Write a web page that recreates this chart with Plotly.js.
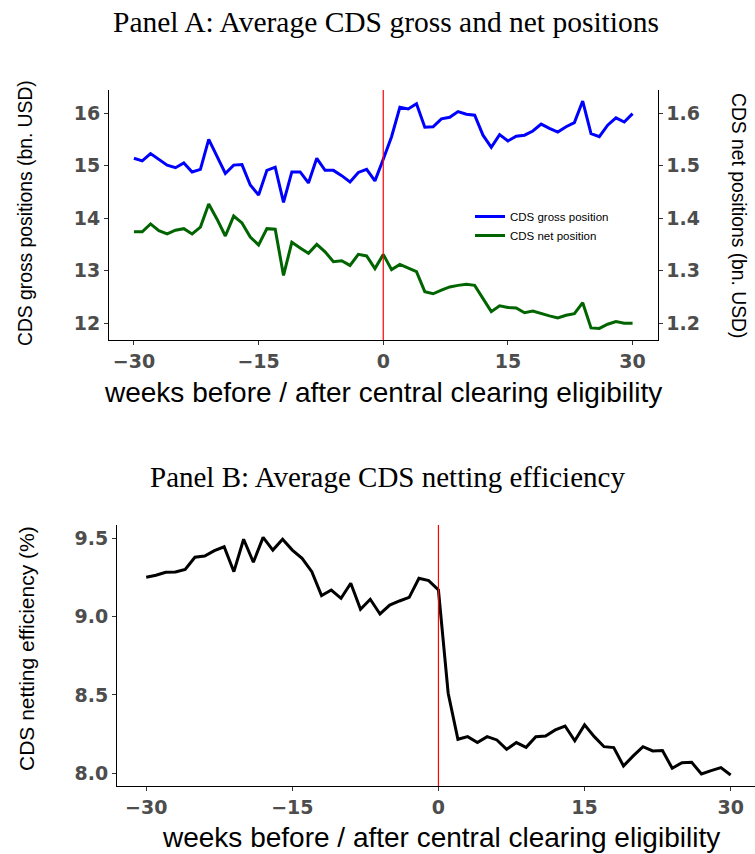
<!DOCTYPE html>
<html>
<head>
<meta charset="utf-8">
<script src="https://cdn.plot.ly/plotly-3.0.1.min.js"></script>
<style>html,body{margin:0;padding:0;background:#fff;}#chart{width:755px;height:854px;}</style>
</head>
<body>
<div id="chart"></div>
<script>
const weeks = [-30,-29,-28,-27,-26,-25,-24,-23,-22,-21,-20,-19,-18,-17,-16,-15,-14,-13,-12,-11,-10,-9,-8,-7,-6,-5,-4,-3,-2,-1,0,1,2,3,4,5,6,7,8,9,10,11,12,13,14,15,16,17,18,19,20,21,22,23,24,25,26,27,28,29,30];

const grossPosition = [15.14,15.09,15.23,15.12,15.01,14.96,15.05,14.88,14.93,15.50,15.17,14.85,15.01,15.02,14.63,14.44,14.91,14.97,14.30,14.88,14.88,14.67,15.14,14.91,14.91,14.81,14.69,14.87,14.93,14.71,15.12,15.55,16.11,16.08,16.18,15.73,15.74,15.89,15.92,16.03,15.98,15.96,15.58,15.35,15.59,15.47,15.56,15.58,15.66,15.79,15.71,15.64,15.74,15.82,16.23,15.61,15.55,15.77,15.91,15.83,15.99];

const netPosition = [1.374,1.374,1.389,1.376,1.370,1.377,1.380,1.370,1.383,1.427,1.398,1.366,1.404,1.391,1.364,1.349,1.380,1.379,1.291,1.354,1.343,1.333,1.350,1.336,1.317,1.319,1.310,1.331,1.328,1.304,1.331,1.302,1.312,1.305,1.298,1.260,1.256,1.263,1.269,1.272,1.274,1.272,1.247,1.222,1.233,1.230,1.229,1.220,1.223,1.218,1.214,1.210,1.215,1.218,1.239,1.191,1.190,1.198,1.203,1.200,1.200];

const nettingEfficiency = [9.251,9.264,9.283,9.285,9.302,9.379,9.387,9.421,9.446,9.287,9.494,9.347,9.506,9.425,9.494,9.425,9.372,9.287,9.134,9.170,9.117,9.213,9.047,9.111,9.017,9.074,9.100,9.123,9.245,9.230,9.170,8.511,8.217,8.234,8.196,8.234,8.213,8.153,8.196,8.166,8.234,8.238,8.277,8.302,8.208,8.309,8.234,8.170,8.164,8.047,8.111,8.170,8.143,8.145,8.032,8.068,8.070,7.996,8.017,8.036,7.989];

const xTicks = [-30,-15,0,15,30];
const grossTicks = [12,13,14,15,16];
const netTicks = [1.2,1.3,1.4,1.5,1.6];
const effTicks = [8.0,8.5,9.0,9.5];

const W = 755, H = 854;
const px = v => v / W;
const py = v => 1 - v / H;

const tickFont = {family:'DejaVu Sans, Arial, sans-serif', size:19, color:'#4D4D4D', weight:'bold'};
const axisTitleFontA = {family:'Liberation Sans, Arial, sans-serif', size:19.3, color:'#000'};
const axisTitleFontB = {family:'Liberation Sans, Arial, sans-serif', size:21, color:'#000'};
const xTitleFont = {family:'Liberation Sans, Arial, sans-serif', size:28, color:'#000'};
const serifFontA = {family:'Liberation Serif, DejaVu Serif, serif', size:29.5, color:'#000'};
const serifFontB = {family:'Liberation Serif, DejaVu Serif, serif', size:29, color:'#000'};

const baseAxis = {
  showgrid:false, zeroline:false, showline:true, linecolor:'#000', linewidth:1,
  ticks:'outside', ticklen:4, tickwidth:1, tickcolor:'#333', tickfont:tickFont, fixedrange:true
};

const traces = [
  {x:weeks, y:grossPosition, type:'scatter', mode:'lines', name:'CDS gross position',
   line:{color:'#0000FF', width:3}, xaxis:'x', yaxis:'y'},
  {x:weeks, y:netPosition, type:'scatter', mode:'lines', name:'CDS net position',
   line:{color:'#006400', width:3}, xaxis:'x', yaxis:'y2'},
  {x:weeks, y:nettingEfficiency, type:'scatter', mode:'lines', name:'CDS netting efficiency',
   line:{color:'#000000', width:3}, xaxis:'x2', yaxis:'y3', showlegend:false}
];

const layout = {
  width:W, height:H,
  margin:{l:0, r:0, t:0, b:0},
  paper_bgcolor:'#fff', plot_bgcolor:'#fff',
  title:{text:'Panel A: Average CDS gross and net positions', font:serifFontA,
         x:px(386), xanchor:'center', xref:'paper', y:py(22), yanchor:'middle', yref:'paper'},
  xaxis:Object.assign({}, baseAxis, {domain:[px(109), px(657.5)], anchor:'y', range:[-33,33], tickvals:xTicks}),
  yaxis:Object.assign({}, baseAxis, {domain:[py(340), py(90)], anchor:'x', range:[11.68,16.44], tickvals:grossTicks}),
  yaxis2:Object.assign({}, baseAxis, {overlaying:'y', side:'right', anchor:'x', range:[1.168,1.644], tickvals:netTicks, tickformat:'.1f'}),
  xaxis2:Object.assign({}, baseAxis, {domain:[px(117), 1], anchor:'y3', range:[-33,32.5], tickvals:xTicks}),
  yaxis3:Object.assign({}, baseAxis, {domain:[py(786), py(525)], anchor:'x2', range:[7.919,9.585], tickvals:effTicks, tickformat:'.1f'}),
  showlegend:true,
  legend:{x:px(470), y:py(202), xanchor:'left', yanchor:'top', bgcolor:'rgba(0,0,0,0)',
          font:{family:'Liberation Sans, Arial, sans-serif', size:11.5, color:'#000'}, tracegroupgap:0},
  shapes:[
    {type:'line', xref:'x', yref:'y domain', x0:0, x1:0, y0:0, y1:1, line:{color:'#FF0000', width:1.2}},
    {type:'line', xref:'x2', yref:'y3 domain', x0:0, x1:0, y0:0, y1:1, line:{color:'#FF0000', width:1.2}}
  ],
  annotations:[
    {text:'CDS gross positions (bn. USD)', x:px(26), y:py(213), xref:'paper', yref:'paper', textangle:-90,
     showarrow:false, xanchor:'center', yanchor:'middle', font:axisTitleFontA},
    {text:'CDS net positions (bn. USD)', x:px(738), y:py(215), xref:'paper', yref:'paper', textangle:90,
     showarrow:false, xanchor:'center', yanchor:'middle', font:axisTitleFontA},
    {text:'weeks before / after central clearing eligibility', x:px(383), y:py(393), xref:'paper', yref:'paper',
     showarrow:false, xanchor:'center', yanchor:'middle', font:xTitleFont},
    {text:'Panel B: Average CDS netting efficiency', x:px(387), y:py(477), xref:'paper', yref:'paper',
     showarrow:false, xanchor:'center', yanchor:'middle', font:serifFontB},
    {text:'CDS netting efficiency (%)', x:px(26), y:py(649), xref:'paper', yref:'paper', textangle:-90,
     showarrow:false, xanchor:'center', yanchor:'middle', font:axisTitleFontB},
    {text:'weeks before / after central clearing eligibility', x:px(441), y:py(837), xref:'paper', yref:'paper',
     showarrow:false, xanchor:'center', yanchor:'middle', font:xTitleFont}
  ]
};

Plotly.newPlot('chart', traces, layout, {displayModeBar:false, staticPlot:true});
</script>
</body>
</html>
